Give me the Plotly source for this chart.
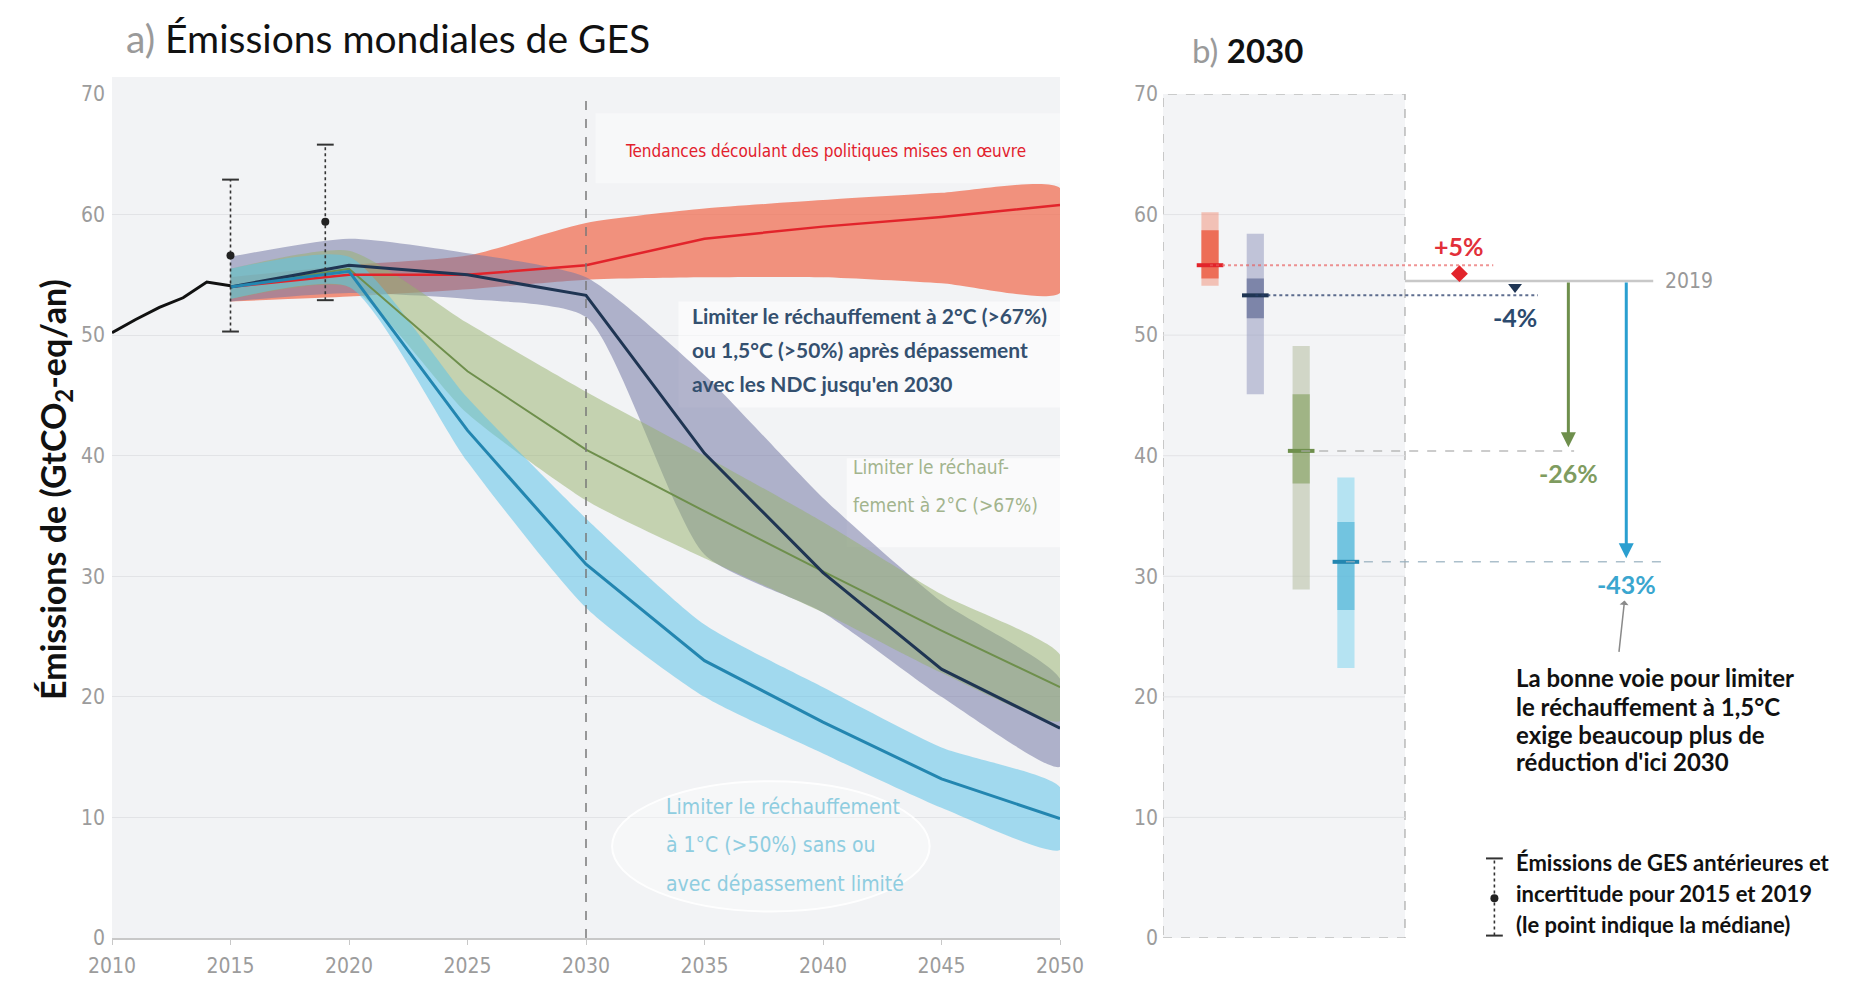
import plotly.graph_objects as go

# ---------------- DATA ----------------
hist_years = [2010, 2011, 2012, 2013, 2014, 2015]
hist_vals = [50.2, 51.3, 52.3, 53.1, 54.4, 54.1]

err_years = [2015, 2019]
err_med = [56.6, 59.4]
err_lo = [50.3, 52.9]
err_hi = [62.9, 65.8]

years = [2015, 2020, 2025, 2030, 2035, 2040, 2045, 2050]

red_med = [54.0, 55.0, 55.0, 55.8, 58.0, 59.0, 59.8, 60.8]
red_hi = [54.8, 55.8, 56.6, 59.3, 60.5, 61.2, 61.8, 62.2]
red_lo = [52.8, 53.2, 53.8, 54.6, 54.8, 54.8, 54.3, 53.5]

navy_med = [54.0, 55.8, 55.0, 53.3, 40.2, 30.3, 22.3, 17.4]
navy_hi = [56.5, 58.0, 56.8, 54.8, 46.7, 36.5, 27.9, 21.5]
navy_lo = [52.8, 53.5, 53.0, 51.5, 31.8, 27.0, 20.0, 14.2]

green_med = [54.0, 55.5, 47.0, 40.5, 35.4, 30.4, 25.5, 20.8]
green_hi = [55.5, 57.0, 51.0, 45.3, 40.0, 34.5, 28.5, 23.5]
green_lo = [53.0, 54.0, 43.5, 36.3, 31.5, 27.0, 22.0, 18.0]

cyan_med = [54.0, 55.3, 42.1, 31.0, 23.0, 17.9, 13.2, 9.9]
cyan_hi = [55.5, 56.5, 44.8, 34.8, 26.0, 20.8, 15.8, 12.5]
cyan_lo = [53.0, 54.0, 39.5, 27.4, 20.0, 15.3, 10.8, 7.3]

x_ticks = [2010, 2015, 2020, 2025, 2030, 2035, 2040, 2045, 2050]
y_ticks = [0, 10, 20, 30, 40, 50, 60, 70]

# panel b (2030)
b_cats = ["Politiques", "NDC", "2°C", "1,5°C"]
b_pos = [0.82, 1.61, 2.41, 3.19]
b_lo_full = [54.1, 45.1, 28.9, 22.4]
b_hi_full = [60.2, 58.4, 49.1, 38.2]
b_lo_iqr = [54.7, 51.4, 37.7, 27.2]
b_hi_iqr = [58.7, 54.7, 45.1, 34.5]
b_med = [55.8, 53.3, 40.4, 31.2]
ref_2019 = 54.5
change_labels = ["+5%", "-4%", "-26%", "-43%"]
change_pos = [5.17, 6.14, 7.07, 8.08]
connector_end = [5.76, 6.54, 7.17, 8.76]

# ---------------- STYLE ----------------
W, H = 1835, 975          # figure size (page body keeps an 8px margin)
def fx(px):
    return (px - 8) / W
def fy(py):
    return 1 - (py - 8) / H

NARROW = "Liberation Sans Narrow, DejaVu Sans Condensed, sans-serif"
BOLDF = "Lato, Open Sans, sans-serif"
TICK_COLOR = "#9c9c9c"

C_RED, C_NAVY, C_GREEN, C_CYAN = "#e2242b", "#1f3553", "#6e8f4c", "#2386b0"
BAND = {
    "red": "rgba(240,112,84,0.75)",
    "navy": "rgba(118,122,165,0.55)",
    "green": "rgba(150,178,108,0.5)",
    "cyan": "rgba(95,195,232,0.55)",
}
B_LIGHT = ["rgba(242,130,105,0.45)", "rgba(150,155,192,0.55)", "rgba(180,190,160,0.55)", "rgba(140,215,240,0.6)"]
B_DARK = ["rgba(236,95,70,0.85)", "rgba(80,92,138,0.6)", "rgba(140,165,105,0.7)", "rgba(70,175,212,0.6)"]
B_MED = [C_RED, C_NAVY, C_GREEN, C_CYAN]
CH_COL = ["#e2303a", "#2c4a6e", "#7f9c60", "#3aa6cf"]

fig = go.Figure()

# ---- panel a bands ----
def band(hi, lo, color):
    fig.add_trace(go.Scatter(
        x=years + years[::-1], y=hi + lo[::-1], fill="toself", fillcolor=color,
        line=dict(width=0, shape="spline", smoothing=0.6), mode="lines",
        hoverinfo="skip", showlegend=False, xaxis="x", yaxis="y"))

band(red_hi, red_lo, BAND["red"])
band(navy_hi, navy_lo, BAND["navy"])
band(green_hi, green_lo, BAND["green"])
band(cyan_hi, cyan_lo, BAND["cyan"])

def med(vals, color, width):
    fig.add_trace(go.Scatter(x=years, y=vals, mode="lines",
                             line=dict(color=color, width=width),
                             showlegend=False, xaxis="x", yaxis="y"))

med(green_med, C_GREEN, 2)
med(red_med, C_RED, 2.5)
med(navy_med, C_NAVY, 3)
med(cyan_med, C_CYAN, 3)

fig.add_trace(go.Scatter(x=hist_years, y=hist_vals, mode="lines",
                         line=dict(color="#111111", width=3),
                         showlegend=False, xaxis="x", yaxis="y"))

# error bars
def errbar(xv, lo, hi, md, xa, ya):
    fig.add_trace(go.Scatter(x=[xv, xv], y=[lo, hi], mode="lines",
                             line=dict(color="#333333", width=1.6, dash="dot"),
                             showlegend=False, xaxis=xa, yaxis=ya))
    fig.add_trace(go.Scatter(x=[xv, xv], y=[lo, hi], mode="markers",
                             marker=dict(symbol="line-ew", size=12,
                                         line=dict(color="#333333", width=2)),
                             showlegend=False, xaxis=xa, yaxis=ya, cliponaxis=False))
    fig.add_trace(go.Scatter(x=[xv], y=[md], mode="markers",
                             marker=dict(symbol="circle", size=8, color="#222222"),
                             showlegend=False, xaxis=xa, yaxis=ya, cliponaxis=False))

for xv, lo, hi, md in zip(err_years, err_lo, err_hi, err_med):
    errbar(xv, lo, hi, md, "x", "y")

# ---- panel b ----
fig.add_trace(go.Bar(x=b_pos, y=[h - l for h, l in zip(b_hi_full, b_lo_full)], base=b_lo_full,
                     width=0.3, marker=dict(color=B_LIGHT, line=dict(width=0)),
                     showlegend=False, xaxis="x2", yaxis="y2"))
fig.add_trace(go.Bar(x=b_pos, y=[h - l for h, l in zip(b_hi_iqr, b_lo_iqr)], base=b_lo_iqr,
                     width=0.3, marker=dict(color=B_DARK, line=dict(width=0)),
                     showlegend=False, xaxis="x2", yaxis="y2"))
fig.add_trace(go.Scatter(x=b_pos, y=b_med, mode="markers",
                         marker=dict(symbol="line-ew", size=19, line=dict(color=B_MED, width=4)),
                         showlegend=False, xaxis="x2", yaxis="y2"))

# connectors
conn_styles = [
    dict(color="rgba(232,90,90,0.65)", width=2, dash="dot"),
    dict(color="rgba(40,62,105,0.75)", width=2, dash="dot"),
    dict(color="rgba(170,170,170,0.8)", width=1.5, dash="dash"),
    dict(color="rgba(150,175,190,0.8)", width=1.5, dash="dash"),
]
for p, e, m, st in zip(b_pos, connector_end, b_med, conn_styles):
    fig.add_trace(go.Scatter(x=[p, e], y=[m, m], mode="lines", line=st,
                             showlegend=False, xaxis="x2", yaxis="y2"))

# 2019 reference line
fig.add_trace(go.Scatter(x=[4.22, 8.55], y=[ref_2019, ref_2019], mode="lines",
                         line=dict(color="#c8c8c8", width=2.5),
                         showlegend=False, xaxis="x2", yaxis="y2"))

# markers for +5% / -4%
fig.add_trace(go.Scatter(x=[change_pos[0]], y=[ref_2019 + 0.6], mode="markers",
                         marker=dict(symbol="diamond", size=13, color=C_RED),
                         showlegend=False, xaxis="x2", yaxis="y2"))
fig.add_trace(go.Scatter(x=[change_pos[1]], y=[ref_2019 - 0.5], mode="markers",
                         marker=dict(symbol="triangle-down", size=12, color=C_NAVY),
                         showlegend=False, xaxis="x2", yaxis="y2"))

# legend error bar icon
errbar(5.78, 0.2, 6.6, 3.3, "x2", "y2")

annotations = []
# arrows for -26% and -43%
for i, col in [(2, "#6e8f4c"), (3, "#2a9fd0")]:
    annotations.append(dict(x=change_pos[i], y=b_med[i] + 0.3, ax=change_pos[i], ay=ref_2019,
                            xref="x2", yref="y2", axref="x2", ayref="y2", text="",
                            showarrow=True, arrowhead=2, arrowsize=1, arrowwidth=3,
                            arrowcolor=col, standoff=0))

label_y = [57.4, 51.5, 38.6, 29.4]
for lab, xp, yp, col in zip(change_labels, change_pos, label_y, CH_COL):
    annotations.append(dict(x=xp, y=yp, xref="x2", yref="y2", text="<b>" + lab + "</b>",
                            showarrow=False, font=dict(family=BOLDF, size=25, color=col)))

annotations.append(dict(x=8.72, y=ref_2019, xref="x2", yref="y2", text="2019", xanchor="left",
                        showarrow=False, font=dict(family=NARROW, size=21, color="#999999")))

# small curved pointer arrow
annotations.append(dict(x=8.05, y=28.0, ax=7.95, ay=23.6, xref="x2", yref="y2", axref="x2", ayref="y2",
                        text="", showarrow=True, arrowhead=1, arrowwidth=1.5, arrowcolor="#8a8a8a",
                        standoff=0))

note_lines = ["La bonne voie pour limiter", "le réchauffement à 1,5°C",
              "exige beaucoup plus de", "réduction d'ici 2030"]
for txt, yv in zip(note_lines, [21.6, 19.2, 16.9, 14.6]):
    annotations.append(dict(x=6.12, y=yv, xref="x2", yref="y2", text="<b>" + txt + "</b>",
                            xanchor="left", showarrow=False,
                            font=dict(family=BOLDF, size=24, color="#111111")))

leg_lines = ["Émissions de GES antérieures et", "incertitude pour 2015 et 2019",
             "(le point indique la médiane)"]
for txt, yv in zip(leg_lines, [6.3, 3.7, 1.1]):
    annotations.append(dict(x=6.12, y=yv, xref="x2", yref="y2", text="<b>" + txt + "</b>",
                            xanchor="left", showarrow=False,
                            font=dict(family=BOLDF, size=22, color="#111111")))

# panel a labels
annotations.append(dict(x=2040.1, y=65.3, xref="x", yref="y",
                        text="Tendances découlant des politiques mises en œuvre",
                        showarrow=False, font=dict(family=NARROW, size=17, color="#e2202c")))
for txt, yv in zip(["Limiter le réchauffement à 2°C (>67%)", "ou 1,5°C (>50%) après dépassement",
                    "avec les NDC jusqu'en 2030"], [51.6, 48.8, 46.0]):
    annotations.append(dict(x=2034.4, y=yv, xref="x", yref="y", text="<b>" + txt + "</b>",
                            xanchor="left", showarrow=False,
                            font=dict(family=BOLDF, size=21, color="#34506f")))
for txt, yv in zip(["Limiter le réchauf-", "fement à 2°C (>67%)"], [39.1, 35.9]):
    annotations.append(dict(x=2041.2, y=yv, xref="x", yref="y", text=txt,
                            xanchor="left", showarrow=False,
                            font=dict(family=NARROW, size=19, color="#a2b48d")))
for txt, yv in zip(["Limiter le réchauffement", "à 1°C (>50%) sans ou", "avec dépassement limité"],
                   [10.9, 7.7, 4.5]):
    annotations.append(dict(x=2033.3, y=yv, xref="x", yref="y", text=txt,
                            xanchor="left", showarrow=False,
                            font=dict(family=NARROW, size=21, color="#8fcde0")))

# titles
annotations.append(dict(x=fx(124), y=fy(38), xref="paper", yref="paper",
                        xanchor="left", yanchor="middle", showarrow=False,
                        text="<span style='color:#9a9a9a'>a)</span> Émissions mondiales de GES",
                        font=dict(family="Lato, sans-serif", size=39, color="#111111")))
annotations.append(dict(x=fx(1190), y=fy(50), xref="paper", yref="paper",
                        xanchor="left", yanchor="middle", showarrow=False,
                        text="<span style='color:#9a9a9a'>b)</span> <b>2030</b>",
                        font=dict(family="Lato, sans-serif", size=33, color="#111111")))
annotations.append(dict(x=fx(30), y=fy(490), xref="paper", yref="paper",
                        textangle=-90, showarrow=False,
                        text="<b>Émissions de (GtCO<sub>2</sub>-eq/an)</b>",
                        font=dict(family=BOLDF, size=34, color="#111111")))

shapes = [
    # panel a background
    dict(type="rect", xref="x domain", yref="y domain", x0=0, x1=1, y0=0, y1=1.02,
         fillcolor="#f2f3f5", line=dict(width=0), layer="below"),
    # panel b dashed box
    dict(type="rect", xref="x2", yref="y2", x0=0, x1=4.22, y0=0, y1=70,
         fillcolor="#f3f4f6", line=dict(color="#bdbdbd", width=1.6, dash="dash"), layer="below"),
    # white boxes behind labels
    dict(type="rect", xref="x", yref="y", x0=2030.4, x1=2050, y0=62.6, y1=68.4,
         fillcolor="rgba(255,255,255,0.4)", line=dict(width=0), layer="between"),
    dict(type="rect", xref="x", yref="y", x0=2033.9, x1=2050, y0=44.0, y1=52.8,
         fillcolor="rgba(255,255,255,0.6)", line=dict(width=0), layer="between"),
    dict(type="rect", xref="x", yref="y", x0=2041.0, x1=2050, y0=32.4, y1=39.8,
         fillcolor="rgba(255,255,255,0.6)", line=dict(width=0), layer="between"),
    dict(type="circle", xref="x", yref="y", x0=2031.1, x1=2044.5, y0=2.2, y1=13.0,
         fillcolor="rgba(255,255,255,0.35)", line=dict(color="rgba(255,255,255,0.9)", width=2),
         layer="between"),
    # 2030 dashed line
    dict(type="line", xref="x", yref="y", x0=2030, x1=2030, y0=0, y1=71,
         line=dict(color="rgba(120,120,120,0.75)", width=2, dash="dash"), layer="above"),
]
# panel b gridlines (only inside the box)
for t in y_ticks[1:-1]:
    shapes.append(dict(type="line", xref="x2", yref="y2", x0=0, x1=4.22, y0=t, y1=t,
                       line=dict(color="#e2e3e6", width=1), layer="between"))

fig.update_layout(
    width=W, height=H,
    margin=dict(l=0, r=0, t=0, b=0, autoexpand=False),
    paper_bgcolor="white", plot_bgcolor="rgba(0,0,0,0)",
    barmode="overlay",
    showlegend=False,
    xaxis=dict(domain=[fx(112), fx(1060)], range=[2010, 2050], tickvals=x_ticks,
               showgrid=False, zeroline=False, showline=True, linecolor="#c8c8c8", linewidth=1.5,
               ticks="outside", ticklen=5, tickcolor="#c8c8c8", automargin=False,
               ticklabelstandoff=3,
               tickfont=dict(family=NARROW, size=21, color=TICK_COLOR), anchor="y"),
    yaxis=dict(domain=[fy(938), fy(94)], range=[0, 70], tickvals=y_ticks,
               showgrid=True, gridcolor="#e2e3e6", gridwidth=1, zeroline=False, showline=False,
               automargin=False, ticklabelstandoff=6,
               tickfont=dict(family=NARROW, size=21, color=TICK_COLOR), anchor="x"),
    xaxis2=dict(domain=[fx(1163), 1.0], range=[0, 11.86], visible=False, anchor="y2",
                automargin=False),
    yaxis2=dict(domain=[fy(938), fy(94)], range=[0, 70], tickvals=y_ticks,
                showgrid=False, zeroline=False, showline=False, automargin=False,
                ticklabelstandoff=4,
                tickfont=dict(family=NARROW, size=21, color=TICK_COLOR), anchor="x2"),
    annotations=annotations,
    shapes=shapes,
)

fig.write_html("out.html")
